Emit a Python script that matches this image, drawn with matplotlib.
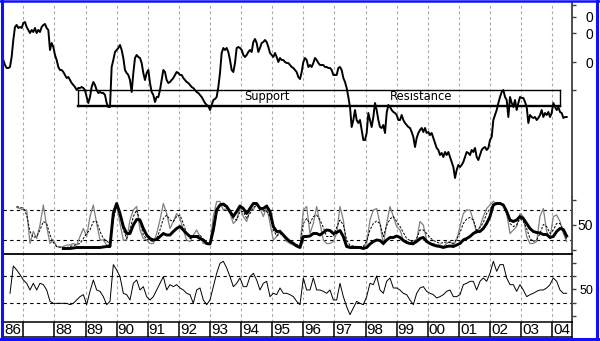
import numpy as np
import matplotlib.pyplot as plt
from matplotlib.lines import Line2D

# weekly-ish closing level of the index (about every 20 days), from mid-1986
price_t0, price_dt = 1986.358, 0.05356
price = [
    140, 135, 132, 132, 133, 143, 160, 173, 175, 172,
    173, 172, 177, 178, 173, 170, 167, 170, 168, 172,
    167, 170, 168, 173, 175, 176, 172, 170, 150, 157,
    153, 145, 140, 133, 130, 130, 128, 125, 122, 123,
    120, 117, 115, 113, 110, 112, 112, 113, 112, 110,
    103, 97, 103, 113, 118, 115, 110, 107, 108, 107,
    107, 105, 97, 93, 93, 133, 140, 148, 150, 152,
    155, 150, 142, 130, 127, 125, 120, 108, 127, 142,
    145, 143, 142, 137, 127, 120, 127, 130, 117, 108,
    105, 98, 103, 103, 110, 120, 130, 128, 120, 117,
    118, 120, 122, 125, 128, 127, 125, 125, 122, 120,
    118, 117, 115, 113, 112, 110, 108, 107, 105, 103,
    100, 97, 95, 94, 90, 95, 100, 101, 103, 113,
    127, 147, 152, 150, 152, 148, 140, 130, 128, 137,
    152, 153, 152, 150, 145, 143, 145, 148, 150, 148,
    158, 161, 157, 148, 152, 157, 158, 160, 158, 153,
    147, 145, 143, 147, 143, 138, 142, 140, 140, 138,
    137, 137, 135, 133, 132, 130, 128, 123, 121, 128,
    138, 142, 140, 133, 135, 133, 137, 142, 140, 137,
    135, 135, 135, 133, 133, 132, 132, 130, 125, 125,
    125, 132, 133, 130, 122, 118, 112, 103, 93, 73,
    80, 90, 80, 77, 80, 70, 60, 60, 67, 87,
    80, 73, 83, 97, 90, 80, 73, 72, 75, 67,
    87, 95, 93, 90, 88, 87, 85, 80, 80, 85,
    80, 77, 75, 73, 72, 68, 63, 53, 62, 67,
    70, 72, 68, 72, 67, 68, 65, 67, 62, 57,
    52, 50, 45, 47, 43, 48, 45, 48, 43, 38,
    33, 22, 30, 35, 33, 35, 38, 43, 48, 47,
    45, 50, 48, 52, 43, 40, 45, 50, 52, 53,
    50, 52, 60, 63, 80, 85, 90, 97, 103, 108,
    110, 103, 100, 83, 103, 97, 93, 100, 90, 97,
    103, 102, 102, 98, 93, 77, 85, 83, 82, 83,
    80, 82, 85, 90, 83, 87, 85, 88, 83, 87,
    97, 93, 90, 93, 88, 87, 82, 83, 83,
]

# oscillators, sampled about every 39 days
osc_dt = 0.10711
fast_t0 = 1986.787
fast_k = [
    85, 83, 80, 80, 13, 37, 23, 50, 90, 47,
    13, 20, 7, 5, 7, 10, 10, 13, 10, 27,
    43, 27, 67, 90, 53, 20, 20, 10, 10, 80,
    90, 53, 20, 20, 60, 80, 87, 40, 23, 20,
    13, 13, 33, 60, 93, 73, 43, 57, 73, 63,
    40, 20, 17, 30, 40, 27, 13, 13, 13, 67,
    97, 97, 80, 83, 73, 53, 60, 87, 67, 57,
    80, 80, 93, 83, 67, 87, 53, 20, 27, 40,
    27, 17, 13, 10, 7, 7, 80, 87, 33, 53,
    87, 53, 20, 13, 13, 17, 33, 87, 60, 10,
    7, 7, 7, 5, 5, 13, 60, 80, 83, 53,
    10, 53, 87, 67, 47, 40, 20, 17, 13, 10,
    20, 57, 50, 20, 13, 13, 10, 10, 7, 13,
    17, 10, 20, 47, 73, 80, 80, 60, 33, 47,
    67, 83, 90, 97, 93, 95, 90, 73, 33, 40,
    47, 73, 67, 27, 13, 13, 17, 67, 83, 37,
    23, 67, 70, 57, 33, 17,
]
slow_d = [
    87, 85, 84, 70, 37, 25, 27, 40, 57, 53,
    30, 15, 7, 6, 5, 5, 7, 9, 11, 13,
    23, 33, 40, 57, 57, 37, 23, 18, 13, 60,
    90, 70, 40, 23, 40, 67, 80, 57, 30, 22,
    19, 17, 23, 40, 63, 70, 60, 57, 67, 70,
    53, 33, 23, 25, 28, 30, 21, 15, 13, 33,
    73, 93, 89, 85, 80, 62, 60, 77, 77, 63,
    73, 85, 89, 87, 78, 77, 67, 40, 28, 33,
    28, 23, 19, 15, 11, 8, 53, 63, 53, 67,
    70, 60, 45, 27, 27, 27, 45, 60, 50, 20,
    9, 8, 7, 7, 7, 18, 40, 53, 58, 53,
    27, 49, 62, 67, 57, 47, 35, 23, 19, 15,
    23, 40, 40, 33, 25, 19, 16, 13, 15, 16,
    15, 13, 22, 35, 53, 62, 65, 60, 40, 45,
    55, 73, 82, 90, 93, 93, 90, 80, 53, 47,
    50, 63, 57, 43, 23, 17, 20, 33, 51, 47,
    33, 40, 53, 53, 40, 20,
]
smooth_t0 = 1988.286
smooth = [
    3, 3, 3, 4, 5, 5, 5, 5, 5, 5,
    5, 5, 6, 7, 7, 73, 93, 73, 47, 33,
    33, 50, 61, 60, 43, 30, 23, 20, 21, 27,
    33, 30, 30, 37, 43, 47, 40, 33, 27, 27,
    27, 23, 20, 13, 12, 40, 80, 90, 92, 87,
    77, 67, 77, 88, 83, 73, 83, 93, 93, 83,
    83, 88, 77, 47, 37, 37, 30, 23, 17, 13,
    8, 5, 27, 27, 28, 33, 33, 30, 35, 40,
    39, 33, 35, 39, 27, 7, 5, 5, 5, 5,
    3, 5, 12, 17, 20, 19, 13, 20, 25, 25,
    28, 25, 19, 15, 13, 13, 17, 23, 25, 17,
    13, 10, 8, 7, 5, 7, 8, 7, 10, 13,
    20, 23, 27, 33, 37, 37, 43, 53, 67, 90,
    93, 93, 90, 77, 60, 57, 60, 67, 63, 53,
    43, 37, 35, 34, 31, 31, 25, 27, 37, 43,
    41, 28,
]
rsi_t0 = 1986.573
rsi = [
    44, 85, 79, 72, 64, 59, 49, 59, 49, 59,
    57, 49, 32, 29, 29, 29, 29, 29, 27, 29,
    34, 39, 42, 27, 47, 64, 49, 47, 39, 27,
    32, 87, 79, 69, 44, 42, 34, 59, 64, 49,
    54, 39, 34, 39, 49, 59, 69, 49, 57, 54,
    57, 52, 49, 44, 42, 29, 49, 52, 34, 27,
    34, 54, 74, 89, 92, 82, 69, 54, 59, 67,
    54, 54, 69, 74, 64, 49, 59, 62, 39, 44,
    42, 52, 44, 44, 42, 39, 32, 27, 67, 49,
    49, 67, 49, 49, 47, 44, 49, 34, 34, 59,
    39, 24, 12, 22, 32, 29, 27, 39, 59, 57,
    70, 49, 44, 62, 67, 52, 52, 49, 44, 42,
    34, 27, 44, 52, 54, 47, 44, 42, 37, 39,
    42, 47, 49, 39, 39, 42, 57, 59, 62, 62,
    49, 62, 67, 62, 74, 92, 77, 87, 87, 67,
    57, 57, 47, 57, 49, 39, 42, 44, 47, 49,
    49, 52, 57, 67, 62, 49, 44, 44,
]

year_lines = np.arange(1987, 2005)
year_labels = ["86", "", "88", "89", "90", "91", "92", "93", "94", "95",
               "96", "97", "98", "99", "00", "01", "02", "03", "04"]

support_lo, support_hi = 94, 110
zone_start, zone_end = 1988.77, 2004.25

W, H = 600, 341
X0, X1 = 1986.348, 2004.632


def series_t(t0, dt, vals):
    return t0 + dt * np.arange(len(vals))


def panel(fig, top, bottom):
    ax = fig.add_axes([3 / W, 1 - bottom / H, 569 / W, (bottom - top) / H])
    ax.set_xlim(X0, X1)
    for side in ["top", "left", "bottom"]:
        ax.spines[side].set_visible(False)
    ax.spines["right"].set_color("#404040")
    ax.spines["right"].set_linewidth(1.3)
    ax.set_xticks([])
    ax.yaxis.tick_right()
    ax.tick_params(axis="y", direction="out", length=3, width=1,
                   color="#404040", pad=12.2)
    for yr in year_lines:
        ax.axvline(yr, color="#a8a8a8", lw=0.8, ls=(0, (2.5, 2.5)), zorder=0)
    ax.set_facecolor("white")
    return ax


fig = plt.figure(figsize=(6, 3.41), dpi=100)
fig.patch.set_facecolor("white")

# price panel
ax_p = panel(fig, 3, 197)
ax_p.set_ylim(3, 197)
ax_p.plot(series_t(price_t0, price_dt, price), price, color="black", lw=1.4, zorder=3)
ax_p.plot([zone_start, zone_end], [support_hi, support_hi], color="black", lw=1.0)
ax_p.plot([zone_start, zone_end], [support_lo, support_lo], color="black", lw=1.7)
ax_p.plot([zone_start, zone_start], [support_lo, support_hi], color="black", lw=1.0)
ax_p.plot([zone_end, zone_end], [support_lo, support_hi], color="black", lw=1.0)
ax_p.text(1994.83, 103.5, "Support", ha="center", va="center", fontsize=8.3,
          family="DejaVu Sans", zorder=4)
ax_p.text(1999.78, 103.5, "Resistance", ha="center", va="center", fontsize=8.3,
          family="DejaVu Sans", zorder=4)
ax_p.set_yticks([195, 183.3, 166.7, 137.7, 110])
ax_p.set_yticklabels(["", "0", "0", "0", ""], ha="right", fontsize=10,
                     family="Liberation Sans")

# stochastic panel
ax_s = panel(fig, 197, 254.3)
ax_s.set_ylim(-8.6, 106)
for lvl in (80, 20):
    ax_s.axhline(lvl, color="black", lw=0.8, ls=(0, (3, 3)), zorder=1)
ax_s.plot(series_t(fast_t0, osc_dt, fast_k), fast_k, color="#808080", lw=0.9, zorder=2)
ax_s.plot(series_t(fast_t0, osc_dt, slow_d), slow_d, color="black", lw=0.7,
          ls=(0, (2.5, 1.5)), zorder=3)
ax_s.plot(series_t(smooth_t0, osc_dt, smooth), smooth, color="black", lw=2.1, zorder=4)
ax_s.set_yticks([0, 50, 100])
ax_s.set_yticklabels(["", "50", ""], ha="right", fontsize=10, family="Liberation Sans")

# rsi panel
ax_r = panel(fig, 254.3, 321.5)
ax_r.set_ylim(1.75, 102.5)
ax_r.spines["top"].set_visible(True)
ax_r.spines["top"].set_linewidth(1.3)
for lvl in (70, 30):
    ax_r.axhline(lvl, color="black", lw=0.8, ls=(0, (3, 3)), zorder=1)
ax_r.plot(series_t(rsi_t0, osc_dt, rsi), rsi, color="black", lw=0.7, zorder=3)
ax_r.set_yticks([10, 30, 50, 70, 90])
ax_r.set_yticklabels(["", "", "50", "", ""], ha="right", fontsize=9,
                     family=["Liberation Sans Narrow", "Liberation Sans"])

# year label strip
ax_l = fig.add_axes([3 / W, 1 - 336.5 / H, 569 / W, 15 / H])
ax_l.set_xlim(X0, X1)
ax_l.set_ylim(0, 1)
ax_l.set_xticks([])
ax_l.set_yticks([])
for side in ax_l.spines.values():
    side.set_linewidth(1.1)
    side.set_color("black")
for yr in year_lines:
    ax_l.axvline(yr, color="black", lw=1.1)
for i, lab in enumerate(year_labels):
    x = max(1986 + i, X0) + 0.03
    ax_l.text(x, 0.45, lab, ha="left", va="center", fontsize=11,
              family="Liberation Sans")

# blue frame round the picture
blue = "#1010ff"
for xs, ys, w in [([1.5 / W, 1.5 / W], [0, 1], 2.2),
                  ([0, 1], [1 - 1.2 / H, 1 - 1.2 / H], 1.8),
                  ([596.5 / W, 596.5 / W], [0, 1], 2.2),
                  ([0, 1], [1 - 338.5 / H, 1 - 338.5 / H], 2.2)]:
    fig.add_artist(Line2D(xs, ys, transform=fig.transFigure, color=blue, lw=w))

fig.savefig("out.png", dpi=100)
